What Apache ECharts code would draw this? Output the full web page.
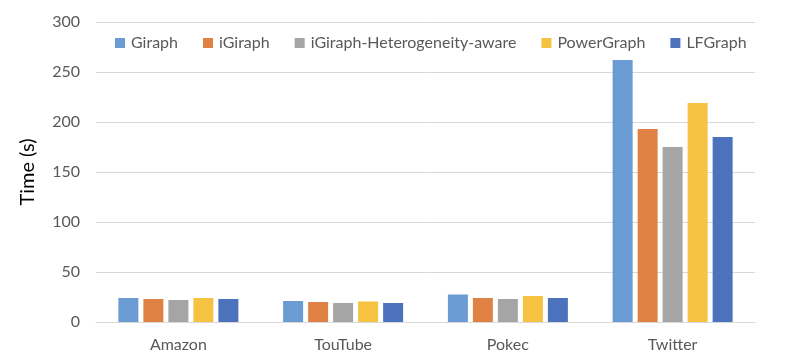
<!DOCTYPE html>
<html>
<head>
<meta charset="utf-8">
<script src="https://cdn.jsdelivr.net/npm/echarts@6/dist/echarts.min.js"></script>
<style>
  html, body { margin: 0; padding: 0; background: #fff; }
  #chart { width: 788px; height: 354px; }
</style>
</head>
<body>
<div id="chart"></div>
<script>
const categories = ['Amazon', 'TouTube', 'Pokec', 'Twitter']
const giraph = [24, 21, 27.5, 262]
const iGiraph = [23, 20, 24, 193]
const iGiraphHetero = [22, 19, 23, 175]
const powerGraph = [24, 20.5, 26, 219]
const lfGraph = [23, 19, 24, 185]
const yTicks = [0, 50, 100, 150, 200, 250, 300]

const colors = {
    'Giraph': '#6A9BD3',
    'iGiraph': '#E08244',
    'iGiraph-Heterogeneity-aware': '#A5A5A5',
    'PowerGraph': '#F5C242',
    'LFGraph': '#4C72BE',
}
const values = [giraph, iGiraph, iGiraphHetero, powerGraph, lfGraph]

const chart = echarts.init(document.getElementById('chart'))
const font = 'Lato, "Liberation Sans", sans-serif'

const option = {
    animation: false,
    color: Object.values(colors),
    legend: {
        top: 30,
        left: 110,
        itemWidth: 10,
        itemHeight: 10,
        itemGap: 25,
        icon: 'rect',
        textStyle: { color: '#595959', fontSize: 16, fontFamily: font, padding: [0, 0, 0, 1] },
        data: Object.keys(colors)
    },
    grid: { left: 96, right: 33, top: 22, bottom: 32 },
    xAxis: {
        type: 'category',
        data: categories,
        axisLine: { lineStyle: { color: '#D9D9D9' } },
        axisTick: { show: false },
        axisLabel: { color: '#595959', fontSize: 16, fontFamily: font, margin: 15 }
    },
    yAxis: {
        type: 'value',
        min: yTicks[0],
        max: yTicks[yTicks.length - 1],
        interval: 50,
        name: 'Time (s)',
        nameLocation: 'middle',
        nameGap: 58,
        nameTextStyle: { color: '#000', fontSize: 20, fontFamily: font },
        axisLine: { show: false },
        axisTick: { show: false },
        splitLine: { lineStyle: { color: '#D9D9D9', width: 1 } },
        axisLabel: { color: '#595959', fontSize: 16, fontFamily: font, margin: 16 }
    },
    series: Object.keys(colors).map((name, i) => ({
        name,
        type: 'bar',
        data: values[i],
        barWidth: 20,
        barGap: '25%',
        barCategoryGap: '27%'
    }))
}

chart.setOption(option)
</script>
</body>
</html>
